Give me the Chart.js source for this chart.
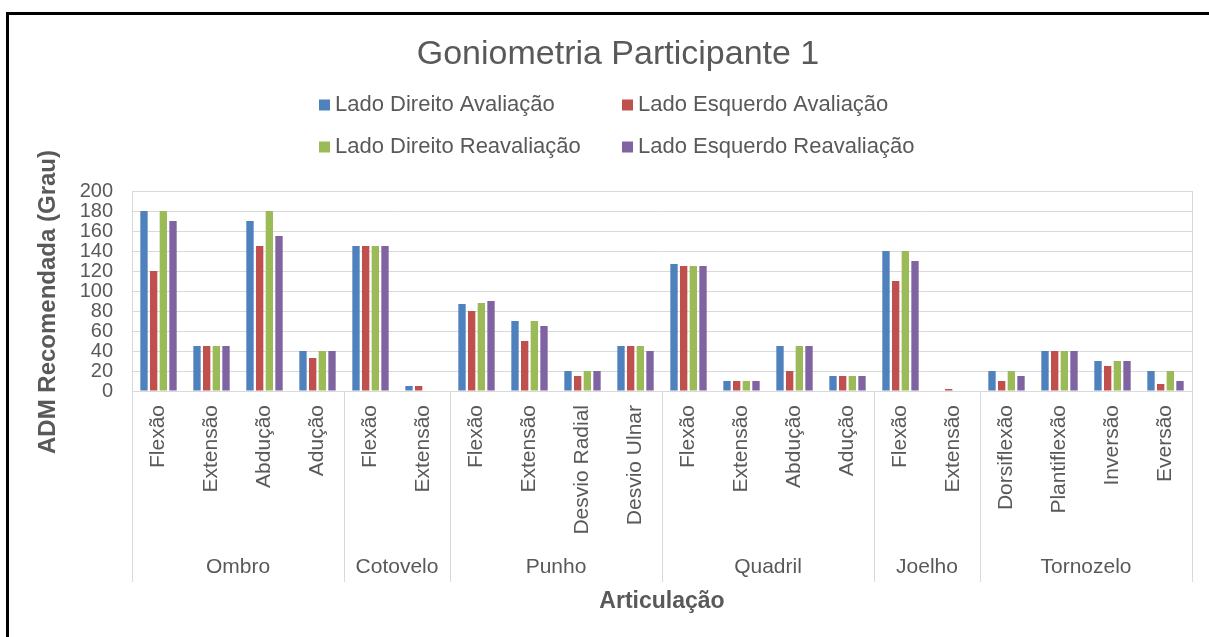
<!DOCTYPE html>
<html lang="pt-BR">
<head>
<meta charset="utf-8">
<title>Goniometria Participante 1</title>
<script src="https://cdn.jsdelivr.net/npm/chart.js@4.4.1/dist/chart.umd.min.js"></script>
<style>
    html, body { margin: 0; padding: 0; background: #fff; }
    canvas { display: block; }
</style>
</head>
<body>
<canvas id="gonioChart" width="1209" height="637"></canvas>
<script>
// dados
const categorias = ['Flexão', 'Extensão', 'Abdução', 'Adução',
    'Flexão', 'Extensão',
    'Flexão', 'Extensão', 'Desvio Radial', 'Desvio Ulnar',
    'Flexão', 'Extensão', 'Abdução', 'Adução',
    'Flexão', 'Extensão',
    'Dorsiflexão', 'Plantiflexão', 'Inversão', 'Eversão'];
const grupos = ['Ombro', 'Cotovelo', 'Punho', 'Quadril', 'Joelho', 'Tornozelo'];
const tamanhoGrupos = [4, 2, 4, 4, 2, 4];

const ladoDireitoAvaliacao   = [180, 45, 170, 40, 145, 5, 87, 70, 20, 45, 127, 10, 45, 15, 140, 0, 20, 40, 30, 20];
const ladoEsquerdoAvaliacao  = [120, 45, 145, 33, 145, 5, 80, 50, 15, 45, 125, 10, 20, 15, 110, 2, 10, 40, 25, 7];
const ladoDireitoReavaliacao = [180, 45, 180, 40, 145, 0, 88, 70, 20, 45, 125, 10, 45, 15, 140, 0, 20, 40, 30, 20];
const ladoEsquerdoReavaliacao = [170, 45, 155, 40, 145, 0, 90, 65, 20, 40, 125, 10, 45, 15, 130, 0, 15, 40, 30, 10];

const eixoYMin = 0;
const eixoYMax = 200;
const eixoYPasso = 20;

const corTexto = '#595959';
const corGrade = '#d9d9d9';
const fonte = 'Arial, "Liberation Sans", sans-serif';

Chart.defaults.font.family = fonte;
Chart.defaults.color = corTexto;

// titulo, moldura, legenda em duas colunas (como no Excel) e titulo do eixo y
const pluginCabecalho = {
    id: 'cabecalho',
    beforeDraw(chart) {
        const ctx = chart.ctx;
        ctx.save();
        ctx.fillStyle = '#ffffff';
        ctx.fillRect(0, 0, chart.width, chart.height);
        ctx.fillStyle = '#000000';
        ctx.fillRect(6, 12, 3, chart.height - 12);
        ctx.fillRect(6, 12, chart.width - 6, 3);
        ctx.restore();
    },
    afterDraw(chart) {
        const ctx = chart.ctx;
        ctx.save();
        ctx.fillStyle = corTexto;
        ctx.textAlign = 'center';
        ctx.textBaseline = 'middle';
        ctx.font = '34px ' + fonte;
        ctx.fillText('Goniometria Participante 1', 618, 55);

        const colunas = [319, 622];
        const linhas = [105, 147];
        ctx.font = '22px ' + fonte;
        ctx.textAlign = 'left';
        chart.data.datasets.forEach((ds, i) => {
            const x = colunas[i % 2];
            const y = linhas[Math.floor(i / 2)];
            ctx.fillStyle = ds.backgroundColor;
            ctx.fillRect(x, y - 5.5, 11, 11);
            ctx.fillStyle = corTexto;
            ctx.fillText(ds.label, x + 16, y);
        });

        // titulo do eixo y, um pouco abaixo do centro como no original
        ctx.translate(48, 302);
        ctx.rotate(-Math.PI / 2);
        ctx.textAlign = 'center';
        ctx.font = 'bold 24px ' + fonte;
        ctx.fillStyle = corTexto;
        ctx.fillText('ADM Recomendada (Grau)', 0, 0);
        ctx.restore();
    }
};

// separadores e nomes das articulacoes abaixo do eixo x
const pluginGrupos = {
    id: 'grupos',
    afterDraw(chart) {
        const { ctx, chartArea } = chart;
        const x = chart.scales.x;
        const passo = (chartArea.right - chartArea.left) / categorias.length;
        const fundo = 582;

        ctx.save();
        ctx.strokeStyle = corGrade;
        ctx.lineWidth = 1;
        ctx.fillStyle = corTexto;
        ctx.font = '21px ' + fonte;
        ctx.textAlign = 'center';
        ctx.textBaseline = 'middle';

        const linha = (px, y0, y1) => {
            const xx = Math.round(px) + 0.5;
            ctx.beginPath();
            ctx.moveTo(xx, y0);
            ctx.lineTo(xx, y1);
            ctx.stroke();
        };

        linha(chartArea.left, chartArea.bottom, fundo);
        linha(chartArea.right, chartArea.top, chartArea.bottom);

        let inicio = 0;
        grupos.forEach((nome, i) => {
            const fim = inicio + tamanhoGrupos[i];
            const xIni = x.getPixelForValue(inicio) - passo / 2;
            const xFim = x.getPixelForValue(fim - 1) + passo / 2;
            linha(xFim, chartArea.bottom, fundo);
            ctx.fillText(nome, (xIni + xFim) / 2, 567);
            inicio = fim;
        });
        ctx.restore();
    }
};

const ctx = document.getElementById('gonioChart').getContext('2d');

new Chart(ctx, {
    type: 'bar',
    data: {
        labels: categorias,
        datasets: [
            { label: 'Lado Direito Avaliação', data: ladoDireitoAvaliacao, backgroundColor: '#4F81BD' },
            { label: 'Lado Esquerdo Avaliação', data: ladoEsquerdoAvaliacao, backgroundColor: '#C0504D' },
            { label: 'Lado Direito Reavaliação', data: ladoDireitoReavaliacao, backgroundColor: '#9BBB59' },
            { label: 'Lado Esquerdo Reavaliação', data: ladoEsquerdoReavaliacao, backgroundColor: '#8064A2' }
        ]
    },
    options: {
        responsive: false,
        animation: false,
        layout: {
            padding: { top: 191, left: 10, right: 17, bottom: 0 }
        },
        datasets: {
            bar: {
                categoryPercentage: 0.73,
                barPercentage: 0.76
            }
        },
        scales: {
            x: {
                grid: { display: false, drawTicks: false },
                border: { display: false },
                ticks: {
                    color: corTexto,
                    font: { size: 21 },
                    minRotation: 90,
                    maxRotation: 90,
                    autoSkip: false,
                    padding: 14
                },
                title: {
                    display: true,
                    text: 'Articulação',
                    color: corTexto,
                    font: { size: 23, weight: 'bold' },
                    padding: { top: 0, bottom: 22 }
                },
                afterFit(scale) {
                    scale.height = 246;
                }
            },
            y: {
                min: eixoYMin,
                max: eixoYMax,
                grid: { color: corGrade, drawTicks: false },
                border: { display: true, color: corGrade },
                ticks: {
                    stepSize: eixoYPasso,
                    autoSkip: false,
                    color: corTexto,
                    font: { size: 20 },
                    padding: 19
                },
                title: { display: false },
                afterFit(scale) {
                    scale.width = 122;
                }
            }
        },
        plugins: {
            title: { display: false },
            legend: { display: false },
            tooltip: { enabled: true }
        }
    },
    plugins: [pluginCabecalho, pluginGrupos]
});
</script>
</body>
</html>
